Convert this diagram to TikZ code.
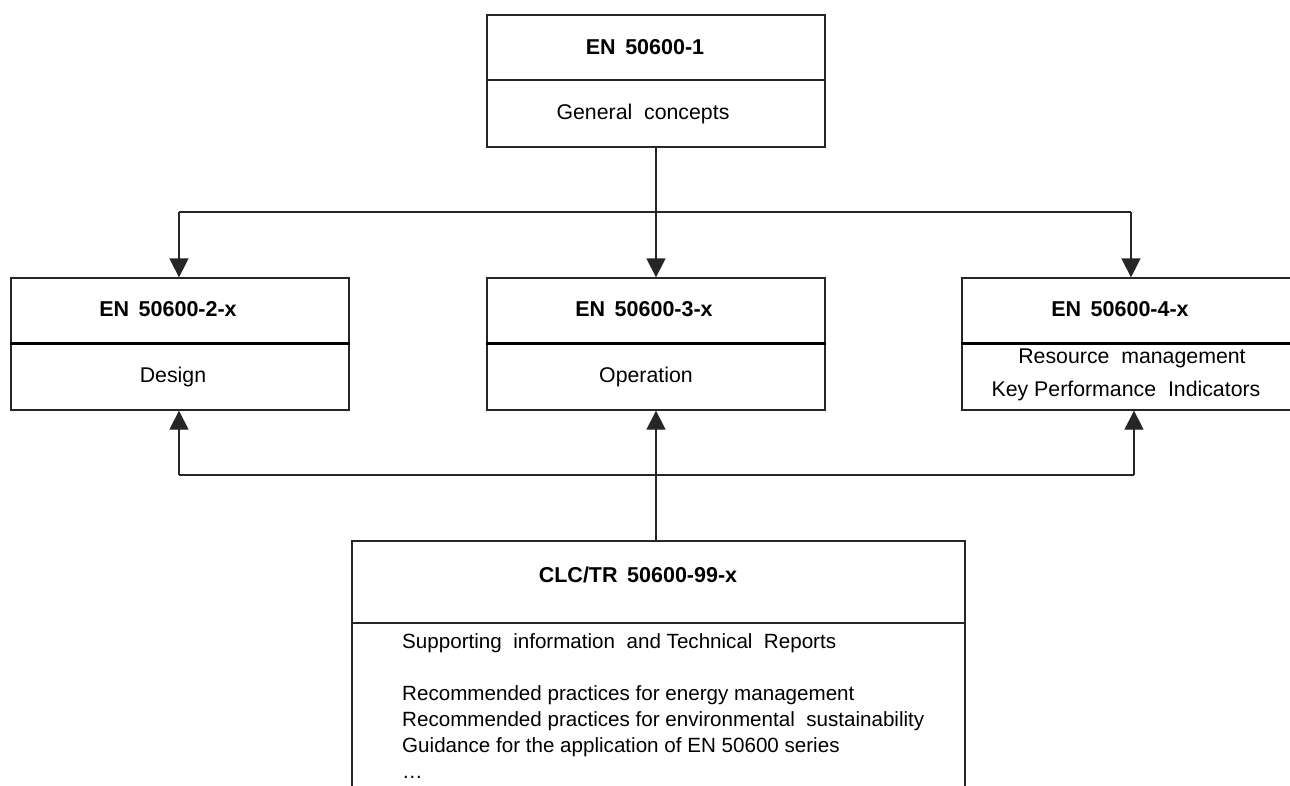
\documentclass[tikz,border=0pt]{standalone}
\usepackage{fontspec}
\setmainfont{Liberation Sans}
\usetikzlibrary{arrows.meta}
\begin{document}
\begin{tikzpicture}[x=1pt,y=-1pt,
  box/.style={draw=black!85, line width=1.3pt, inner sep=0pt},
  divthin/.style={draw=black!85, line width=1.3pt},
  divthick/.style={draw=black, line width=2.4pt},
  conn/.style={draw=black!85, line width=1.3pt},
  arr/.style={conn, -{Triangle[length=19pt,width=19pt]}},
  txt/.style={inner sep=0pt, font=\fontsize{21.3}{26}\selectfont},
  ttl/.style={inner sep=0pt, font=\fontsize{21.5}{26}\selectfont\bfseries},
  body/.style={inner sep=0pt, font=\fontsize{20.6}{26}\selectfont}]
\useasboundingbox (0,0) rectangle (1290,785);
\clip (0,0) rectangle (1290,785);
\fill[white] (0,0) rectangle (1290,785);
% boxes
\node[box, minimum width=338pt, minimum height=132pt] (top) at (656,81) {};
\node[box, minimum width=338pt, minimum height=132pt] (left) at (180,344) {};
\node[box, minimum width=338pt, minimum height=132pt] (mid) at (656,344) {};
\node[box, minimum width=342pt, minimum height=132pt] (right) at (1133,344) {};
\node[box, minimum width=613pt, minimum height=300pt] (bot) at (658.5,691) {};
% dividers
\draw[divthin] (top.west |- 0,80) -- (top.east |- 0,80);
\draw[divthick] (left.west |- 0,343.5) -- (left.east |- 0,343.5);
\draw[divthick] (mid.west |- 0,343.5) -- (mid.east |- 0,343.5);
\draw[divthick] (right.west |- 0,343.5) -- (right.east |- 0,343.5);
\draw[divthin] (bot.west |- 0,623) -- (bot.east |- 0,623);
% texts
\node[ttl] (t1) at (645,47) {EN\,\ 50600-1};
\node[txt] (t1b) at (643,114) {General\ \ concepts};
\node[ttl] (t2) at (168,309) {EN\,\ 50600-2-x};
\node[txt] (t2b) at (173,377) {Design};
\node[ttl] (t3) at (644,309) {EN\,\ 50600-3-x};
\node[txt] (t3b) at (646,377) {Operation};
\node[ttl] (t4) at (1120,309) {EN\,\ 50600-4-x};
\node[txt] (t4b) at (1132,358) {Resource\ \ management};
\node[txt] (t4c) at (1126,391) {Key\ Performance\ \ Indicators};
\node[ttl] (t5) at (638,575) {CLC/TR\,\ 50600-99-x};
\node[body, anchor=north west, align=left] (t5b) at (402,633) {Supporting\ \ information\ \ and Technical\ \ Reports\\[0pt]
\strut\\[0pt]
Recommended practices for energy management\\
Recommended practices for environmental\ \ sustainability\\
Guidance for the application of EN 50600 series\\
…};
% connectors
\coordinate (jc) at (656,212);
\coordinate (jl) at (179,212);
\coordinate (jr) at (1131,212);
\draw[conn] (top.south) -- (jc);
\draw[conn] (jl) -- (jr);
\draw[arr] (jl) -- (jl |- left.north);
\draw[arr] (jc) -- (mid.north);
\draw[arr] (jr) -- (jr |- right.north);
\coordinate (bl) at (179,475);
\coordinate (br) at (1134,475);
\draw[arr] (bot.north -| mid.south) -- (mid.south);
\draw[conn] (bl) -- (br);
\draw[arr] (bl) -- (bl |- left.south);
\draw[arr] (br) -- (br |- right.south);
\end{tikzpicture}
\end{document}
